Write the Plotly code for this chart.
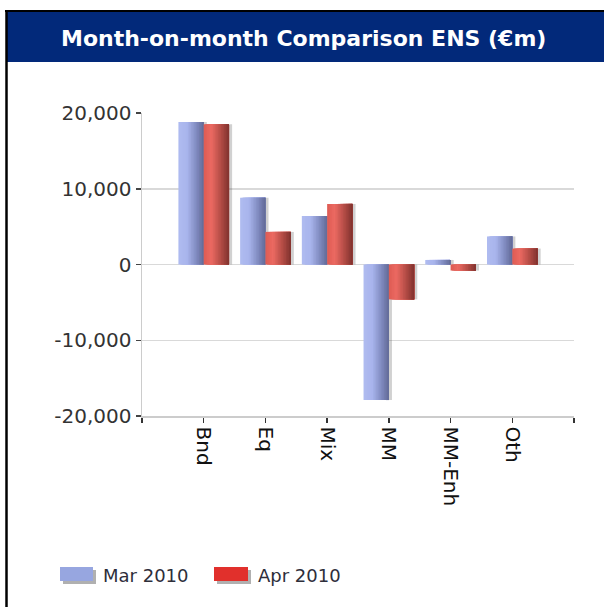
import plotly.graph_objects as go

# ---------------- data ----------------
categories = ["Bnd", "Eq", "Mix", "MM", "MM-Enh", "Oth"]
mar_2010 = [18800, 8800, 6400, -17900, 600, 3700]
apr_2010 = [18500, 4300, 8000, -4600, -800, 2100]
series_names = ["Mar 2010", "Apr 2010"]
y_tick_vals = [-20000, -10000, 0, 10000, 20000]
y_tick_text = ["-20,000", "-10,000", "0", "10,000", "20,000"]
title_text = "Month-on-month Comparison ENS (€m)"

# ---------------- layout geometry ----------------
W, H = 604, 607
L, R, T, B = 142, 574, 113, 416


def px(xp):
    return (xp - L) / (R - L)


def py(yp):
    return (B - yp) / (B - T)


def interp(stops, t):
    for (t0, c0), (t1, c1) in zip(stops[:-1], stops[1:]):
        if t0 <= t <= t1:
            f = (t - t0) / (t1 - t0) if t1 > t0 else 0
            c = [round(a + (b - a) * f) for a, b in zip(c0, c1)]
            return "rgb(%d,%d,%d)" % tuple(c)
    return "rgb(%d,%d,%d)" % tuple(stops[-1][1])


blue_stops = [(0.0, (176, 188, 240)), (0.35, (168, 180, 236)),
              (0.75, (124, 134, 186)), (1.0, (98, 106, 150))]
red_stops = [(0.0, (222, 92, 84)), (0.3, (236, 106, 98)),
             (0.75, (168, 70, 64)), (1.0, (128, 50, 46))]

x_idx = list(range(len(categories)))
bar_w = 0.41
N = 16

fig = go.Figure()
for values, start, stops in [(mar_2010, -bar_w, blue_stops), (apr_2010, 0.0, red_stops)]:
    # soft shadow
    fig.add_bar(x=x_idx, y=values, offset=start + 0.05, width=bar_w,
                marker_color="rgba(70,70,70,0.25)", marker_line_width=0,
                showlegend=False, hoverinfo="skip")
    # cylinder-like shading: each strip runs to the bar's right edge
    for i in range(N):
        t = (i + 0.5) / N
        off = i * bar_w / N
        fig.add_bar(x=x_idx, y=values, offset=start + off,
                    width=bar_w - off, marker_color=interp(stops, t),
                    marker_line_width=0, showlegend=False, hoverinfo="skip")

font_main = "DejaVu Sans"
shapes = [
    # title band
    dict(type="rect", xref="paper", yref="paper", x0=px(7), x1=px(605),
         y0=py(62), y1=py(12), fillcolor="#02297A", line_width=0),
    # top border
    dict(type="line", xref="paper", yref="paper", x0=px(5), x1=px(605),
         y0=py(11), y1=py(11), line=dict(color="#000000", width=2)),
    # left border
    dict(type="line", xref="paper", yref="paper", x0=px(6.5), x1=px(6.5),
         y0=py(10), y1=py(608), line=dict(color="#000000", width=2.5)),
]
annotations = [
    dict(text=title_text, xref="paper", yref="paper", x=px(303), y=py(38),
         xanchor="center", yanchor="middle", showarrow=False,
         font=dict(family=font_main, size=22, color="#ffffff", weight="bold")),
]

legend_items = [(series_names[0], 60, 93, (151, 166, 224)),
                (series_names[1], 214, 248, (225, 48, 44))]
for name, x0, x1, col in legend_items:
    shapes.append(dict(type="rect", xref="paper", yref="paper",
                       x0=px(x0 + 3), x1=px(x1 + 3), y0=py(584), y1=py(570),
                       fillcolor="rgba(80,80,80,0.45)", line_width=0))
    shapes.append(dict(type="rect", xref="paper", yref="paper",
                       x0=px(x0), x1=px(x1), y0=py(581), y1=py(567),
                       fillcolor="rgb(%d,%d,%d)" % col, line_width=0))
    annotations.append(dict(text=name, xref="paper", yref="paper",
                            x=px(x1 + 8), y=py(575), xanchor="left",
                            yanchor="middle", showarrow=False,
                            font=dict(family=font_main, size=18, color="#2e2e3a")))

fig.update_layout(
    width=W, height=H, autosize=False,
    margin=dict(l=L, r=W - R, t=T, b=H - B, pad=0),
    paper_bgcolor="white", plot_bgcolor="white",
    barmode="overlay", showlegend=False,
    shapes=shapes, annotations=annotations,
    xaxis=dict(range=[-1, len(categories)], tickmode="array",
               tickvals=list(range(-1, len(categories) + 1)),
               ticktext=[""] + categories + [""],
               tickangle=90, ticks="outside", ticklen=5, tickwidth=1.5,
               tickcolor="#333333", showline=True, linecolor="#cccccc",
               linewidth=1.5, showgrid=False, zeroline=False,
               tickfont=dict(family=font_main, size=20, color="#111111")),
    yaxis=dict(range=[-20000, 20000], tickmode="array",
               tickvals=y_tick_vals, ticktext=y_tick_text,
               ticks="outside", ticklen=5, tickwidth=1.5, tickcolor="#444444",
               showline=True, linecolor="#cccccc", linewidth=1.5,
               showgrid=True, gridcolor="#d9d9d9", gridwidth=1.5,
               zeroline=False,
               tickfont=dict(family=font_main, size=20, color="#333333")),
)

fig.write_html("out.html",
               config={"displayModeBar": False, "staticPlot": True},
               post_script="document.body.style.margin='0';"
                           "document.body.style.overflow='hidden';")
